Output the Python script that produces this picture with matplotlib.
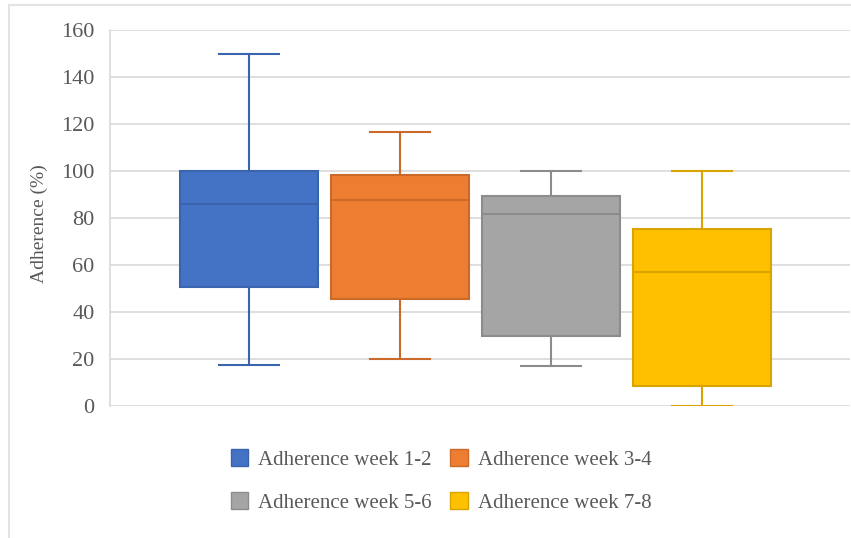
import matplotlib.pyplot as plt
from matplotlib.patches import Patch
from matplotlib.lines import Line2D

plt.rcParams['font.family'] = ['Liberation Serif', 'DejaVu Serif']

labels = ["Adherence week 1-2", "Adherence week 3-4", "Adherence week 5-6", "Adherence week 7-8"]
whislo = [17.4, 20.2, 17.0, 0.0]
q1 = [50.6, 45.5, 30.0, 8.3]
med = [86.0, 87.7, 81.9, 57.2]
q3 = [100.0, 98.3, 89.4, 75.5]
whishi = [150.0, 116.8, 100.0, 100.0]
colors = ["#4472C4", "#ED7D31", "#A5A5A5", "#FFC000"]
edges = ["#3A64AE", "#C9692A", "#8C8C8C", "#D9A300"]

text_color = "#595959"

fig = plt.figure(figsize=(8.51, 5.38), dpi=100)
ax = fig.add_axes([110 / 851, 1 - 406 / 538, 740 / 851, 376 / 538])

stats = []
for i in range(4):
    stats.append(dict(label=labels[i], whislo=whislo[i], q1=q1[i], med=med[i],
                      q3=q3[i], whishi=whishi[i], fliers=[]))

positions = [1, 2, 3, 4]
bp = ax.bxp(stats, positions=positions, widths=0.91, patch_artist=True,
            showfliers=False, capwidths=0.4)
for i in range(4):
    bp['boxes'][i].set(facecolor=colors[i], edgecolor=edges[i], linewidth=1.5)
    bp['medians'][i].set(color=edges[i], linewidth=1.5)
    for k in (2 * i, 2 * i + 1):
        bp['whiskers'][k].set(color=edges[i], linewidth=1.5)
        bp['caps'][k].set(color=edges[i], linewidth=1.5)

ax.set_xlim(0.08, 4.98)
ax.set_ylim(0, 160)
ax.set_yticks(range(0, 161, 20))
ax.set_xticks([])
ax.yaxis.grid(True, color="#D9D9D9", linewidth=1.2)
ax.set_axisbelow(True)
for side in ("top", "right", "bottom"):
    ax.spines[side].set_visible(False)
ax.spines["left"].set_color("#D9D9D9")
ax.spines["left"].set_linewidth(1.2)
ax.tick_params(axis="y", length=0, labelsize=16, labelcolor=text_color, pad=11)
ax.set_ylabel("Adherence (%)", fontsize=14, color=text_color)
ax.yaxis.set_label_coords(-0.084, 0.485)

# legend fills column by column, so reorder to read row by row
order = [0, 2, 1, 3]
handles = [Patch(facecolor=colors[i], edgecolor=edges[i], linewidth=1) for i in order]
leg = fig.legend(handles, [labels[i] for i in order], ncol=2, loc="center",
                 bbox_to_anchor=(441 / 851, 1 - 481 / 538),
                 frameon=False, fontsize=15, labelcolor=text_color, handlelength=0.85,
                 handleheight=0.85, handletextpad=0.48, columnspacing=0.86, labelspacing=1.1)

# outer chart frame
fig.add_artist(Line2D([9 / 851, 1], [1 - 5 / 538, 1 - 5 / 538], color="#E3E3E3", linewidth=1.5))
fig.add_artist(Line2D([9 / 851, 9 / 851], [0, 1 - 5 / 538], color="#E3E3E3", linewidth=1.5))

fig.savefig("out.png", dpi=100)
